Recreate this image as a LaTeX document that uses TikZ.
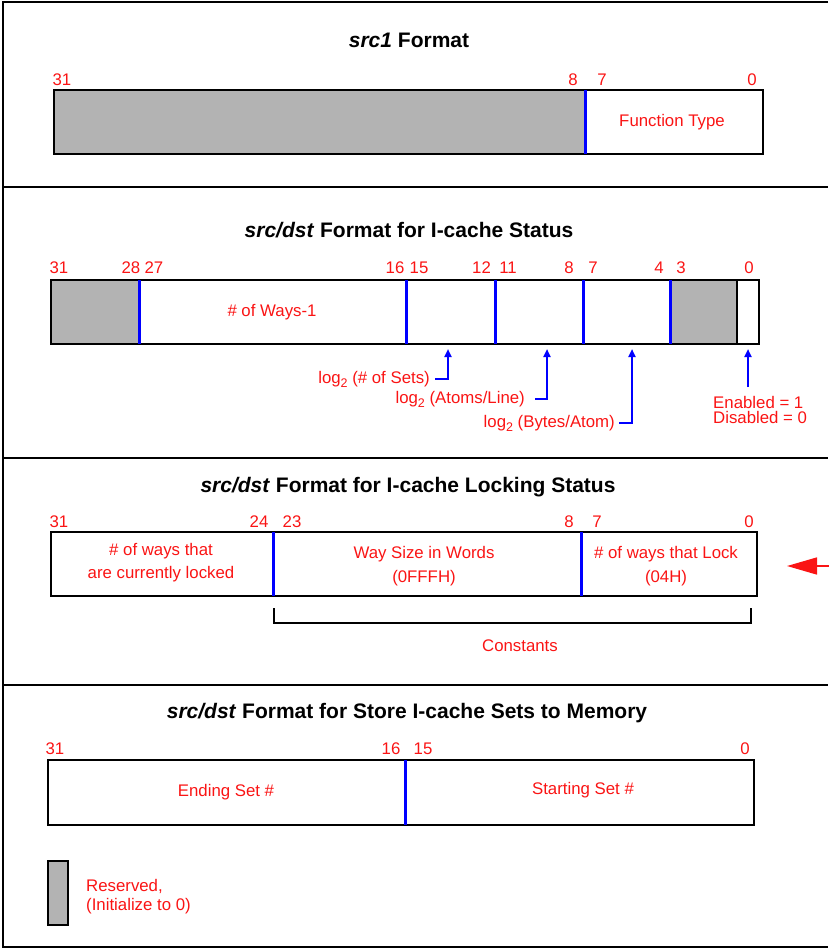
\documentclass[tikz,border=0pt]{standalone}
\usepackage{fontspec}
\setmainfont{Liberation Sans}
\usetikzlibrary{arrows.meta}
\definecolor{myred}{RGB}{250,20,20}
\definecolor{regblue}{RGB}{0,0,255}
\definecolor{resgrey}{RGB}{179,179,179}
\newcommand{\logtwo}{log\raisebox{-0.45ex}{\fontsize{12.5}{12.5}\selectfont 2}}
\tikzset{
  lbl/.style={text=myred, font=\fontsize{16.8}{18}\selectfont, inner sep=0pt},
  lbltwo/.style={lbl, align=center, font=\fontsize{16.8}{23.5}\selectfont},
  ttl/.style={font=\fontsize{21}{22}\selectfont\bfseries, inner sep=0pt},
  frameline/.style={line width=2pt},
  regbox/.style={draw, line width=2pt},
  divline/.style={draw=regblue, line width=3pt},
  blkdiv/.style={draw=black, line width=2pt},
  resfill/.style={fill=resgrey},
  ptr/.style={draw=regblue, line width=2pt, -{Triangle[length=8pt,width=7pt]}},
  redptr/.style={draw=myred, line width=1.5pt, -{Triangle[length=30pt,width=17pt]}},
}
\begin{document}
\begin{tikzpicture}[x=1pt,y=-1pt]
\useasboundingbox (0,0) rectangle (828,948);
% outer frame and section separators
\draw[frameline] (828,2) -- (2.5,2) -- (2.5,946.5) -- (828,946.5);
\draw[frameline] (2.5,186.5) -- (828,186.5);
\draw[frameline] (2.5,458) -- (828,458);
\draw[frameline] (2.5,685) -- (828,685);

% ---------------- Section 1: src1 Format
\node[ttl] (t1) at (409,40) {\textit{src1} Format};
\node[lbl] (a31) at (62,80) {31};
\node[lbl] (a8) at (573,80) {8};
\node[lbl] (a7) at (602,80) {7};
\node[lbl] (a0) at (752,80) {0};
\fill[resfill] (54,90) rectangle (585,154);
\draw[regbox] (54,90) rectangle (763,154);
\draw[divline] (585,90) -- (585,154);
\node[lbl] (ft) at (672,122) {Function Type};

% ---------------- Section 2: I-cache Status
\node[ttl] (t2) at (409,230) {\textit{src/dst} Format for I-cache Status};
\node[lbl] (b31) at (59,268) {31};
\node[lbl] (b28) at (131,268) {28};
\node[lbl] (b27) at (154,268) {27};
\node[lbl] (b16) at (395,268) {16};
\node[lbl] (b15) at (419,268) {15};
\node[lbl] (b12) at (481.5,268) {12};
\node[lbl] (b11) at (508,268) {11};
\node[lbl] (b8) at (569,268) {8};
\node[lbl] (b7) at (593,268) {7};
\node[lbl] (b4) at (659,268) {4};
\node[lbl] (b3) at (681,268) {3};
\node[lbl] (b0) at (749,268) {0};
\fill[resfill] (51,280) rectangle (139.5,344);
\fill[resfill] (670,280) rectangle (737,344);
\draw[regbox] (51,280) rectangle (759,344);
\draw[divline] (139.5,280) -- (139.5,344);
\draw[divline] (406,280) -- (406,344);
\draw[divline] (495,280) -- (495,344);
\draw[divline] (583,280) -- (583,344);
\draw[divline] (670.5,280) -- (670.5,344);
\draw[blkdiv] (737,280) -- (737,344);
\node[lbl] (ways) at (272,312.5) {\# of Ways-1};

\coordinate (p1) at (448,349);
\coordinate (p2) at (547,349);
\coordinate (p3) at (632,349);
\coordinate (p4) at (748,349);
\coordinate (p4s) at (748,387);
\node[lbl, anchor=east] (s1) at (430,379) {\logtwo{} (\# of Sets)};
\node[lbl, anchor=east] (s2) at (525,399) {\logtwo{} (Atoms/Line)};
\node[lbl, anchor=east] (s3) at (615,423) {\logtwo{} (Bytes/Atom)};
\draw[ptr] ([xshift=5pt]s1.east) -| (p1);
\draw[ptr] ([xshift=10pt]s2.east) -| (p2);
\draw[ptr] ([xshift=4pt]s3.east) -| (p3);
\node[lbl, anchor=west, align=left, font=\fontsize{16.8}{15}\selectfont] (en) at (713,409.5) {Enabled = 1\\Disabled = 0};
\draw[ptr] (p4s) -- (p4);

% ---------------- Section 3: I-cache Locking Status
\node[ttl] (t3) at (408,487) {\textit{src/dst} Format for I-cache Locking Status};
\node[lbl] (c31) at (59,522) {31};
\node[lbl] (c24) at (259,522) {24};
\node[lbl] (c23) at (292,522) {23};
\node[lbl] (c8) at (569,522) {8};
\node[lbl] (c7) at (597,522) {7};
\node[lbl] (c0) at (749,522) {0};
\draw[regbox] (51,532) rectangle (757,596);
\draw[divline] (273,532) -- (273,596);
\draw[divline] (581,532) -- (581,596);
\node[lbltwo] (lk1) at (161,562.5) {\# of ways that\\are currently locked};
\node[lbltwo] (lk2) at (424,566) {Way Size in Words\\(0FFFH)};
\node[lbltwo] (lk3) at (666,566) {\# of ways that Lock\\(04H)};
\draw[line width=2pt] (273.5,608) -- (273.5,622.5) -- (751,622.5) -- (751,608);
\node[lbl] (const) at (520,646) {Constants};
\coordinate (rtip) at (787,566);
\coordinate (rstart) at (830,566);
\draw[redptr] (rstart) -- (rtip);

% ---------------- Section 4: Store I-cache Sets to Memory
\node[ttl] (t4) at (407,713) {\textit{src/dst} Format for Store I-cache Sets to Memory};
\node[lbl] (d31) at (55,749) {31};
\node[lbl] (d16) at (391,749) {16};
\node[lbl] (d15) at (423,749) {15};
\node[lbl] (d0) at (745,749) {0};
\draw[regbox] (47.5,760) rectangle (754,825);
\draw[divline] (405.5,760) -- (405.5,825);
\node[lbl] (endset) at (226,792) {Ending Set \#};
\node[lbl] (startset) at (583,790) {Starting Set \#};

% legend
\draw[line width=2pt, fill=resgrey] (48,861) rectangle (67.5,925);
\node[lbl, anchor=west, align=left, font=\fontsize{16.8}{19}\selectfont] (legend) at (86,896.5) {Reserved,\\(Initialize to 0)};
\end{tikzpicture}
\end{document}
